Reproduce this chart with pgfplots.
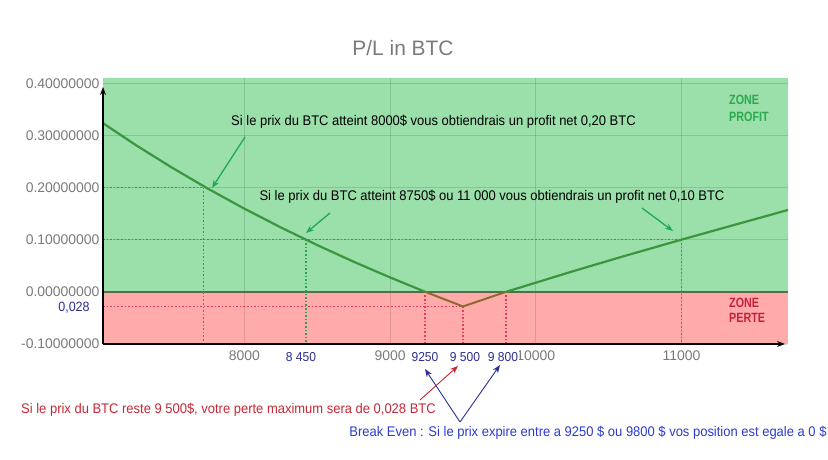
\documentclass[border=0pt]{standalone}
\usepackage{pgfplots}
\pgfplotsset{compat=1.18}
\usepackage{fontspec}
\setmainfont{Liberation Sans}
\newfontfamily\narrow[FakeStretch=0.93]{Liberation Sans}
\newfontfamily\zonefont[FakeStretch=0.8]{Liberation Sans}
\usetikzlibrary{arrows.meta}
\definecolor{bgG}{HTML}{9BDFAB}
\definecolor{bgR}{HTML}{FFABAB}
\definecolor{lineG}{HTML}{3A973E}
\definecolor{lineB}{HTML}{8E6A30}
\definecolor{arrG}{HTML}{1EA85E}
\definecolor{dotG}{HTML}{24A552}
\definecolor{dotR}{HTML}{E8385A}
\definecolor{navy}{HTML}{2B2F8E}
\definecolor{bblue}{HTML}{2A3BD0}
\definecolor{dred}{HTML}{C62835}
\definecolor{zg}{HTML}{2CA84E}
\definecolor{zr}{HTML}{C8203C}
\definecolor{tgray}{HTML}{7A7A7A}
\definecolor{zline}{HTML}{5B6B4E}
\tikzset{gdot/.style={dotG, line width=1.5bp, dash pattern=on 1.6bp off 2bp},
         rdot/.style={dotR, line width=1.5bp, dash pattern=on 1.6bp off 2bp}}
\begin{document}
\begin{tikzpicture}
\begin{axis}[
  set layers,
  at={(103bp,116bp)}, anchor=south west,
  scale only axis, width=685bp, height=266bp,
  xmin=7030, xmax=11730, ymin=-0.1, ymax=0.41,
  axis line style={draw=none},
  tick style={draw=none},
  xtick={8000,9000,10000,11000},
  ytick={-0.1,0,0.1,0.2,0.3,0.4},
  scaled x ticks=false, scaled y ticks=false,
  grid=major,
  grid style={black, opacity=0.12, line width=0.8bp},
  /pgf/number format/assume math mode=true,
  xticklabel style={font=\fontsize{14}{14}\selectfont, text=tgray, yshift=-3bp,
    /pgf/number format/1000 sep={}},
  yticklabel style={font=\fontsize{14}{14}\selectfont, text=tgray,
    /pgf/number format/.cd, fixed, fixed zerofill, precision=8},
]
\begin{pgfonlayer}{axis background}
\fill[bgG] (axis cs:7030,0) rectangle (axis cs:11730,0.41);
\fill[bgR] (axis cs:7030,-0.1) rectangle (axis cs:11730,0);
\end{pgfonlayer}
\draw[zline, line width=1.4bp] (axis cs:7030,0) -- (axis cs:11730,0);
% dotted guides
\draw[gdot] (axis cs:7030,0.2) -- (axis cs:7720,0.2) -- (axis cs:7720,-0.1);
\draw[gdot] (axis cs:7030,0.1) -- (axis cs:11000,0.1);
\draw[gdot] (axis cs:8422,0.1) -- (axis cs:8422,-0.1);
\draw[gdot] (axis cs:11000,0.1) -- (axis cs:11000,-0.1);
\draw[rdot] (axis cs:7030,-0.028) -- (axis cs:9500,-0.028);
\draw[rdot] (axis cs:9241,0) -- (axis cs:9241,-0.1);
\draw[rdot] (axis cs:9500,-0.028) -- (axis cs:9500,-0.1);
\draw[rdot] (axis cs:9795,0) -- (axis cs:9795,-0.1);
% P/L curve
\addplot[lineG, line width=2.2bp] coordinates {(7030,0.3234)(7250,0.2823)(7500,0.2387)(7750,0.1978)(8000,0.1595)(8250,0.1235)(8500,0.0896)(8750,0.0577)(9000,0.0276)(9241,0)};
\addplot[lineB, line width=2bp] coordinates {(9241,0)(9500,-0.028)(9795,0)};
\addplot[lineG, line width=2.2bp] coordinates {(9795,0)(10250,0.0391)(10600,0.0681)(11000,0.1001)(11400,0.1313)(11730,0.1570)};
\end{axis}
\begin{scope}[x=1bp,y=1bp]
% axis lines
\draw[black, line width=1.3bp, -{Stealth[length=8bp,width=6bp]}] (103,116) -- (103,373);
\draw[black, line width=1.3bp, -{Stealth[length=8bp,width=6bp]}] (103,116) -- (785,116);
% title
\node[text=tgray, font=\fontsize{21}{21}\selectfont] at (403,412) {P/L in BTC};
% annotations
\node[font=\narrow\fontsize{14}{16}\selectfont] at (433.5,338) {Si le prix du BTC atteint 8000\$ vous obtiendrais un profit net 0,20 BTC};
\node[font=\narrow\fontsize{14}{16}\selectfont] at (492,263) {Si le prix du BTC atteint 8750\$ ou 11 000 vous obtiendrais un profit net 0,10 BTC};
\draw[arrG, line width=1.3bp, -{Stealth[length=8bp,width=6bp]}] (245,323) -- (212,272);
\draw[arrG, line width=1.3bp, -{Stealth[length=8bp,width=6bp]}] (330,247) -- (306,227);
\draw[arrG, line width=1.3bp, -{Stealth[length=8bp,width=6bp]}] (642,252) -- (673,229);
% zones
\node[anchor=west, align=left, text=zg, inner sep=0, font=\zonefont\bfseries\fontsize{13.5}{17}\selectfont] at (729,351.5) {ZONE\\PROFIT};
\node[anchor=west, align=left, text=zr, inner sep=0, font=\zonefont\bfseries\fontsize{13.5}{15}\selectfont] at (729,149.5) {ZONE\\PERTE};
% blue labels
\node[text=navy, fill=white, inner sep=1bp, font=\narrow\fontsize{13}{13}\selectfont] at (425,103) {9250};
\node[text=navy, fill=white, inner sep=1bp, font=\narrow\fontsize{13}{13}\selectfont] at (465,103) {9 500};
\node[text=navy, fill=white, inner sep=1bp, font=\narrow\fontsize{13}{13}\selectfont] at (503,103) {9 800};
\node[text=navy, fill=white, inner sep=1bp, font=\narrow\fontsize{13}{13}\selectfont] at (301,103) {8 450};
\node[text=navy, inner sep=1bp, font=\narrow\fontsize{13.5}{13.5}\selectfont] at (74,152) {0,028};
% bottom arrows
\draw[navy, line width=0.9bp, -{Stealth[length=8bp,width=6bp]}] (460,38) -- (425,91);
\draw[navy, line width=0.9bp, -{Stealth[length=8bp,width=6bp]}] (460,38) -- (500,95);
\draw[dred, line width=0.9bp, -{Stealth[length=8bp,width=6bp]}] (420,60) -- (458,94);
% bottom texts
\node[text=dred, font=\narrow\fontsize{14}{16}\selectfont] at (228.5,50) {Si le prix du BTC reste 9 500\$, votre perte maximum sera de 0,028 BTC};
\node[text=bblue, font=\narrow\fontsize{14}{16}\selectfont] at (588,27) {Break Even : Si le prix expire entre a 9250 \$ ou 9800 \$ vos position est egale a 0 \$};
\end{scope}
\pgfresetboundingbox
\path[use as bounding box] (0,0) rectangle (828bp,460bp);
\end{tikzpicture}
\end{document}
